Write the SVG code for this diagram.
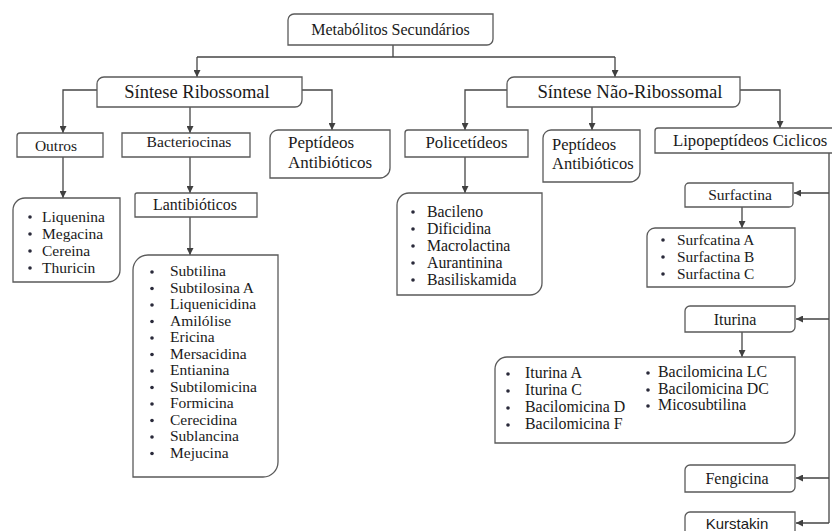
<svg xmlns="http://www.w3.org/2000/svg" width="832" height="531" viewBox="0 0 832 531">
<defs>
<marker id="ah" viewBox="0 0 10 10" refX="10" refY="5" markerWidth="7" markerHeight="7" markerUnits="userSpaceOnUse" orient="auto">
<path d="M0,0 L10,5 L0,10 Z" fill="#404040"/>
</marker>
<style>
.box{fill:#fff;stroke:#5a5a5a;stroke-width:1.3}
.t{font-family:"Liberation Serif","Times New Roman",serif;fill:#1a1a1a}
.s{font-family:"Liberation Sans",Arial,sans-serif;fill:#1a1a1a}
.c{stroke:#454545;stroke-width:1.3;fill:none}
.a{marker-end:url(#ah)}
.b{fill:#2a2a3a}
</style>
</defs>
<rect width="832" height="531" fill="#fff"/>

<g id="connectors">
<path class="c" d="M393,45 V57 M197,57 H615"/>
<path class="c a" d="M197,57 V77"/>
<path class="c a" d="M615,57 V77"/>
<path class="c a" d="M97,90 H63 V133"/>
<path class="c a" d="M190,107 V133"/>
<path class="c a" d="M302,90 H332 V130"/>
<path class="c a" d="M507,90 H465 V130"/>
<path class="c a" d="M592,107 V130"/>
<path class="c a" d="M740,90 H780 V128"/>
<path class="c a" d="M63,157 V198"/>
<path class="c a" d="M190,157 V193"/>
<path class="c a" d="M190,217 V255"/>
<path class="c a" d="M465,157 V193"/>
<path class="c" d="M829,153 V523"/>
<path class="c a" d="M829,193 H794"/>
<path class="c a" d="M829,319 H796"/>
<path class="c a" d="M829,478 H796"/>
<path class="c a" d="M829,523 H796"/>
<path class="c a" d="M742,207 V228"/>
<path class="c a" d="M742,332 V357"/>
</g>

<g id="metabolitos">
<path class="box" d="M288,20 A6,6 0 0 1 294,14 H493 V39 A6,6 0 0 1 487,45 H288 Z"/>
<text class="t" x="390.5" y="35" font-size="16" text-anchor="middle">Metabólitos Secundários</text>
</g>

<g id="sintese-ribossomal">
<path class="box" d="M97,84 A7,7 0 0 1 104,77 H302 V100 A7,7 0 0 1 295,107 H97 Z"/>
<text class="t" x="197" y="98" font-size="18.5" text-anchor="middle">Síntese Ribossomal</text>
</g>

<g id="sintese-nao-ribossomal">
<path class="box" d="M507,84 A7,7 0 0 1 514,77 H740 V100 A7,7 0 0 1 733,107 H507 Z"/>
<text class="t" x="630" y="98" font-size="18.8" text-anchor="middle">Síntese Não-Ribossomal</text>
</g>

<g id="outros">
<path class="box" d="M17,136 A3,3 0 0 1 20,133 H103 V157 H17 Z"/>
<text class="t" x="56" y="151" font-size="15.5" text-anchor="middle">Outros</text>
</g>

<g id="bacteriocinas">
<path class="box" d="M122,133 H250 V157 H122 Z"/>
<text class="t" x="189" y="147" font-size="15.6" text-anchor="middle">Bacteriocinas</text>
</g>

<g id="peptideos-1">
<path class="box" d="M270,138 A8,8 0 0 1 278,130 H390 V168 A10,10 0 0 1 380,178 H270 Z"/>
<text class="t" x="288" y="148" font-size="17">Peptídeos</text>
<text class="t" x="288" y="168" font-size="17">Antibióticos</text>
</g>

<g id="policetideos">
<path class="box" d="M405,133 A3,3 0 0 1 408,130 H528 V157 H405 Z"/>
<text class="t" x="466.5" y="148" font-size="16.8" text-anchor="middle">Policetídeos</text>
</g>

<g id="peptideos-2">
<path class="box" d="M543,138 A8,8 0 0 1 551,130 H640 V172 A10,10 0 0 1 630,182 H543 Z"/>
<text class="t" x="552" y="150" font-size="16.5">Peptídeos</text>
<text class="t" x="552" y="169" font-size="16.5">Antibióticos</text>
</g>

<g id="lipopeptideos">
<path class="box" d="M655,131 A3,3 0 0 1 658,128 H834 V153 H655 Z"/>
<text class="t" x="673" y="146" font-size="16.7">Lipopeptídeos Ciclicos</text>
</g>

<g id="liquenina-list">
<path class="box" d="M13,210 A12,12 0 0 1 25,198 H120 V270 A12,12 0 0 1 108,282 H13 Z"/>
<g class="t" font-size="15.5">
<text x="42" y="222">Liquenina</text>
<text x="42" y="239">Megacina</text>
<text x="42" y="256">Cereina</text>
<text x="42" y="273">Thuricin</text>
</g>
<g class="b"><circle cx="30" cy="217" r="1.8"/><circle cx="30" cy="234" r="1.8"/><circle cx="30" cy="251" r="1.8"/><circle cx="30" cy="268" r="1.8"/></g>
</g>

<g id="lantibioticos">
<path class="box" d="M135,195 A2,2 0 0 1 137,193 H257 V217 H135 Z"/>
<text class="t" x="195" y="210" font-size="15.9" text-anchor="middle">Lantibióticos</text>
</g>

<g id="lantibioticos-list">
<path class="box" d="M133,270 A15,15 0 0 1 148,255 H278 V462 A15,15 0 0 1 263,477 H133 Z"/>
<g class="t" font-size="15.5">
<text x="170" y="276">Subtilina</text>
<text x="170" y="292.5">Subtilosina A</text>
<text x="170" y="309">Liquenicidina</text>
<text x="170" y="325.5">Amilólise</text>
<text x="170" y="342">Ericina</text>
<text x="170" y="358.5">Mersacidina</text>
<text x="170" y="375">Entianina</text>
<text x="170" y="391.5">Subtilomicina</text>
<text x="170" y="408">Formicina</text>
<text x="170" y="424.5">Cerecidina</text>
<text x="170" y="441">Sublancina</text>
<text x="170" y="457.5">Mejucina</text>
</g>
<g class="b">
<circle cx="152" cy="272" r="1.8"/><circle cx="152" cy="288.5" r="1.8"/><circle cx="152" cy="305" r="1.8"/><circle cx="152" cy="321.5" r="1.8"/><circle cx="152" cy="338" r="1.8"/><circle cx="152" cy="354.5" r="1.8"/><circle cx="152" cy="371" r="1.8"/><circle cx="152" cy="387.5" r="1.8"/><circle cx="152" cy="404" r="1.8"/><circle cx="152" cy="420.5" r="1.8"/><circle cx="152" cy="437" r="1.8"/><circle cx="152" cy="453.5" r="1.8"/>
</g>
</g>

<g id="policetideos-list">
<path class="box" d="M397,205 A12,12 0 0 1 409,193 H542 V283 A12,12 0 0 1 530,295 H397 Z"/>
<g class="t" font-size="15.8">
<text x="427" y="217">Bacileno</text>
<text x="427" y="234">Dificidina</text>
<text x="427" y="251">Macrolactina</text>
<text x="427" y="268">Aurantinina</text>
<text x="427" y="285">Basiliskamida</text>
</g>
<g class="b"><circle cx="413" cy="212" r="1.8"/><circle cx="413" cy="229" r="1.8"/><circle cx="413" cy="246" r="1.8"/><circle cx="413" cy="263" r="1.8"/><circle cx="413" cy="280" r="1.8"/></g>
</g>

<g id="surfactina">
<path class="box" d="M685,187 A4,4 0 0 1 689,183 H793 V203 A4,4 0 0 1 789,207 H685 Z"/>
<text class="t" x="740" y="200" font-size="15.5" text-anchor="middle">Surfactina</text>
</g>

<g id="surfactina-list">
<path class="box" d="M647,236 A8,8 0 0 1 655,228 H795 V279 A8,8 0 0 1 787,287 H647 Z"/>
<g class="t" font-size="15.4">
<text x="677" y="245">Surfcatina A</text>
<text x="677" y="262">Surfactina B</text>
<text x="677" y="279">Surfactina C</text>
</g>
<g class="b"><circle cx="663" cy="240" r="1.8"/><circle cx="663" cy="257" r="1.8"/><circle cx="663" cy="274" r="1.8"/></g>
</g>

<g id="iturina">
<path class="box" d="M685,311 A5,5 0 0 1 690,306 H795 V327 A5,5 0 0 1 790,332 H685 Z"/>
<text class="t" x="735" y="325" font-size="16" text-anchor="middle">Iturina</text>
</g>

<g id="iturina-list">
<path class="box" d="M495,369 A12,12 0 0 1 507,357 H795 V431 A12,12 0 0 1 783,443 H495 Z"/>
<g class="t" font-size="15.9">
<text x="525" y="378">Iturina A</text>
<text x="525" y="395">Iturina C</text>
<text x="525" y="412">Bacilomicina D</text>
<text x="525" y="429">Bacilomicina F</text>
<text x="658" y="377">Bacilomicina LC</text>
<text x="658" y="394">Bacilomicina DC</text>
<text x="658" y="410">Micosubtilina</text>
</g>
<g class="b"><circle cx="508" cy="374" r="1.8"/><circle cx="508" cy="391" r="1.8"/><circle cx="508" cy="408" r="1.8"/><circle cx="508" cy="425" r="1.8"/><circle cx="648" cy="373" r="1.8"/><circle cx="648" cy="390" r="1.8"/><circle cx="648" cy="406" r="1.8"/></g>
</g>

<g id="fengicina">
<path class="box" d="M685,470 A5,5 0 0 1 690,465 H795 V487 A5,5 0 0 1 790,492 H685 Z"/>
<text class="t" x="737" y="484" font-size="16" text-anchor="middle">Fengicina</text>
</g>

<g id="kurstakin">
<path class="box" d="M685,517 A5,5 0 0 1 690,512 H795 V540 H685 Z"/>
<text class="s" x="737" y="529" font-size="15" text-anchor="middle">Kurstakin</text>
</g>
</svg>
